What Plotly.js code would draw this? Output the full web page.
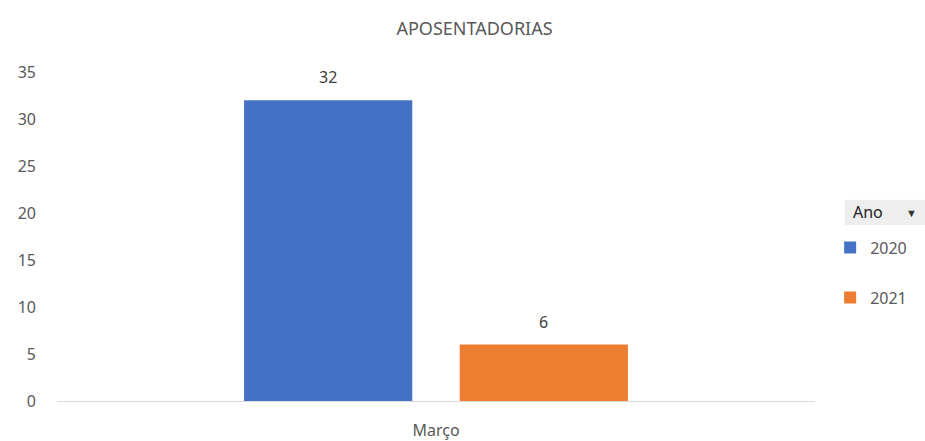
<!DOCTYPE html>
<html><head><meta charset="utf-8">
<script src="https://cdn.plot.ly/plotly-3.0.1.min.js"></script>
<style>html,body{margin:0;padding:0;background:#fff}#chart{width:925px;height:441px}</style>
</head><body><div id="chart"></div>
<script>
const categories = ["Março"];
const series2020 = [32];
const series2021 = [6];
const seriesNames = ["2020", "2021"];
const yTicks = [0, 5, 10, 15, 20, 25, 30, 35];

const FONT = "Noto Sans, Open Sans, sans-serif";
const GRAY = "#595959";
const BARGAP = 0.431, GROUPGAP = 0.22;
const allSeries = [series2020, series2021];
const colors = ["#4472C4", "#ED7D31"];
const traces = allSeries.map((s, i) => ({
  type:"bar", x:categories, y:s, name:seriesNames[i], legendgroup:"g"+i,
  marker:{color:colors[i]}, hoverinfo:"none"
}));
// data labels above bars (offset within the group derived from bar gaps)
const slot = (1 - BARGAP) / allSeries.length;
const labelAnns = [];
allSeries.forEach((s, i) => s.forEach((v, j) => {
  labelAnns.push({xref:"x", yref:"y", x: j - (1 - BARGAP)/2 + slot*(i+0.5), y:v,
    yanchor:"bottom", yshift:10, text:String(v), showarrow:false,
    font:{size:16, color:"#404040"}});
}));
const layout = {
  width:925, height:441,
  margin:{l:57, r:110, t:72, b:40, autoexpand:false},
  paper_bgcolor:"#fff", plot_bgcolor:"#fff",
  font:{family:FONT, color:GRAY, size:15},
  title:{text:"APOSENTADORIAS", x:0.513, xanchor:"center", y:0.935, yanchor:"middle",
         font:{size:18, color:GRAY, family:FONT}},
  barmode:"group", bargap:BARGAP, bargroupgap:GROUPGAP,
  xaxis:{showgrid:false, zeroline:false, showline:true, linecolor:"#d9d9d9", linewidth:1,
         ticks:"", tickfont:{size:16, color:GRAY}, ticklabelstandoff:15, fixedrange:true},
  yaxis:{range:[0,35], tickvals:yTicks, showgrid:false, zeroline:false, showline:false,
         ticks:"", tickfont:{size:16, color:GRAY}, ticklabelstandoff:20, fixedrange:true},
  showlegend:true,
  legend:{x:1.02, xanchor:"left", y:0.39, yanchor:"middle", tracegroupgap:26,
          font:{size:16, color:GRAY}, bgcolor:"rgba(0,0,0,0)"},
  shapes:[{type:"rect", xref:"paper", yref:"paper", x0:1.0396, x1:1.145, y0:0.535, y1:0.612,
           fillcolor:"#eeeeee", line:{width:0}}],
  annotations:[{xref:"paper", yref:"paper", x:1.047, y:0.573, xanchor:"left", yanchor:"middle",
                text:"Ano", showarrow:false, font:{size:16, color:"#222"}},
               {xref:"paper", yref:"paper", x:1.137, y:0.573, xanchor:"right", yanchor:"middle",
                text:"▼", showarrow:false, font:{size:11, color:"#333"}}].concat(labelAnns)
};
Plotly.newPlot("chart", traces, layout, {displayModeBar:false, staticPlot:true});
</script></body></html>
